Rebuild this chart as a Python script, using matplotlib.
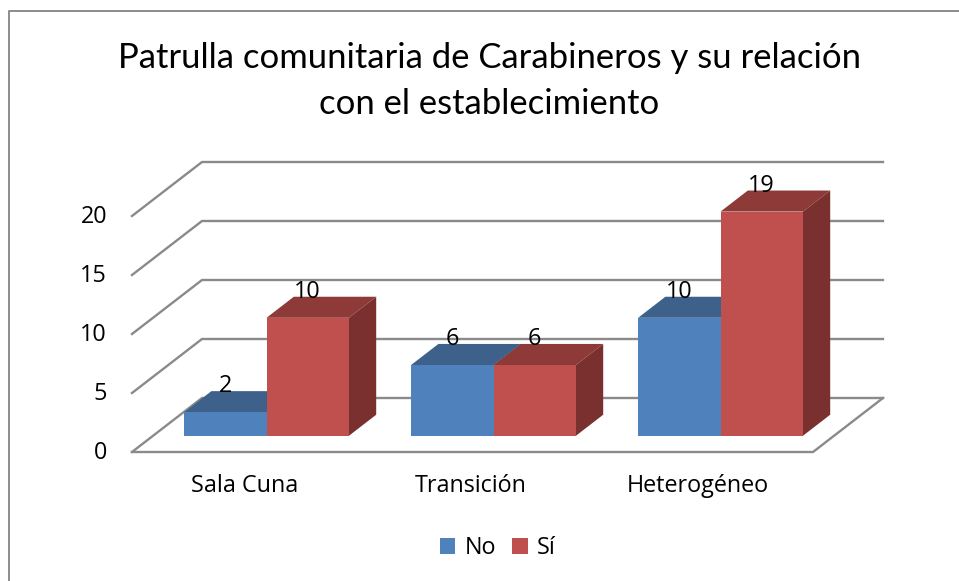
import matplotlib
matplotlib.use('Agg')
import matplotlib.pyplot as plt
from matplotlib.lines import Line2D
from matplotlib.patches import Patch, Polygon

categories = ['Sala Cuna', 'Transición', 'Heterogéneo']
no_values = [2, 6, 10]
si_values = [10, 6, 19]
y_ticks = [0, 5, 10, 15, 20]
title = 'Patrulla comunitaria de Carabineros y su relación\ncon el establecimiento'

plt.rcParams['font.family'] = 'Open Sans'

W, H = 959, 581
# where the plot sits in the picture (pixels)
x0_px, y0_px = 132, 452
px_per_cat = 227
px_per_val = 11.8

fig = plt.figure(figsize=(W / 100, H / 100), dpi=100)
ax = fig.add_axes([0, 0, 1, 1])
ax.set_xlim(-x0_px / px_per_cat, (W - x0_px) / px_per_cat)
ax.set_ylim((y0_px - H) / px_per_val, y0_px / px_per_val)
ax.axis('off')

# depth of the floor, in data units
depth_x = 70 / px_per_cat
depth_y = 54 / px_per_val
bar_w = 0.363
bar_from, bar_to = 0.30, 0.69
grid_c = '#8a8a8a'
label_size = 16.8

# chart border, only left and top show up
fig.add_artist(Line2D([8.5 / W, 8.5 / W, 1], [0, 1 - 10.5 / H, 1 - 10.5 / H],
                      color='#8c8c8c', lw=1.4))

# walls and floor
n = len(categories)
for v in y_ticks:
    ax.plot([0, depth_x, n + depth_x], [v, v + depth_y, v + depth_y],
            color=grid_c, lw=1.7, solid_joinstyle='miter', zorder=1)
    ax.text(-0.11, v - 1 / px_per_val, str(v), ha='right', va='center', fontsize=label_size,
            color='black')
ax.plot([0, n, n + depth_x], [0, 0, depth_y], color=grid_c, lw=1.7, zorder=1)


def bar_3d(x_left, val, front, top, side):
    # front corner of the box, moved back on the floor
    xa = x_left + bar_from * depth_x
    ya = bar_from * depth_y
    dx = (bar_to - bar_from) * depth_x
    dy = (bar_to - bar_from) * depth_y
    xb = xa + bar_w
    yt = ya + val
    ax.add_patch(Polygon([(xa, yt), (xb, yt), (xb + dx, yt + dy), (xa + dx, yt + dy)],
                         fc=top, ec='none', zorder=3))
    ax.add_patch(Polygon([(xb, ya), (xb + dx, ya + dy), (xb + dx, yt + dy), (xb, yt)],
                         fc=side, ec='none', zorder=3))
    ax.add_patch(Polygon([(xa, ya), (xb, ya), (xb, yt), (xa, yt)],
                         fc=front, ec='none', zorder=4))
    ax.text(xa + bar_w / 2, yt + 26 / px_per_val, str(val), ha='center', va='center',
            fontsize=label_size, color='black', zorder=5)


for i, name in enumerate(categories):
    left = i + 0.5 - bar_w
    bar_3d(left, no_values[i], '#4f81bd', '#3e618c', '#34557d')
    bar_3d(left + bar_w, si_values[i], '#c0504d', '#8e3a38', '#7a302e')
    ax.text(i + 0.5 - 0.006, -34.5 / px_per_val, name, ha='center', va='center', fontsize=label_size)

ax.text(n / 2 + depth_x / 2 - 0.08, (y0_px - 81) / px_per_val, title, ha='center', va='center',
        fontsize=24.9, family='Lato', linespacing=1.54)

handles = [Patch(fc='#4f81bd', label='No'), Patch(fc='#c0504d', label='Sí')]
ax.legend(handles=handles, ncol=2, loc='center', bbox_to_anchor=(498 / W, 1 - 548 / H),
          bbox_transform=fig.transFigure, frameon=False, fontsize=label_size,
          handlelength=0.65, handleheight=0.65, handletextpad=0.4, columnspacing=0.7)

fig.savefig('out.png', dpi=100)
